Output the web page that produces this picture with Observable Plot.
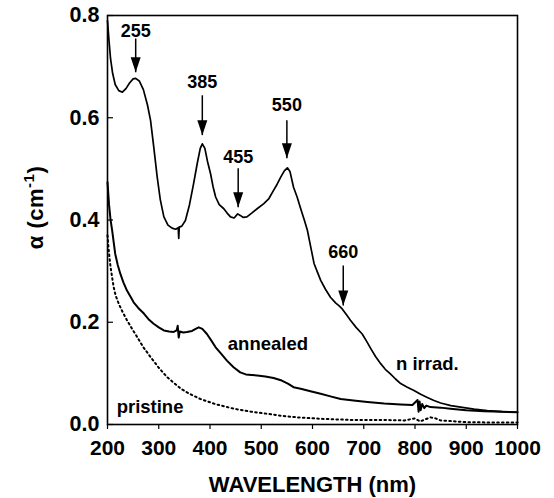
<!DOCTYPE html>
<html><head><meta charset="utf-8">
<script src="https://cdn.jsdelivr.net/npm/d3@7"></script>
<script src="https://cdn.jsdelivr.net/npm/@observablehq/plot@0.6"></script>
<style>
html,body{margin:0;padding:0;background:#fff;}
#chart svg{display:block;}
</style></head><body><div id="chart"></div>
<script>
// ---- data ----
const irradNm  = [200,203,206,210,215,222,229,236,243,250,255,262,270,278,284,290,297,303,310,318,326,333,338,339,340,345,352,360,368,375,381,385,390,395,401,406,411,418,427,433,440,447,454,459,465,472,482,492,505,515,524,531,538,545,551,556,563,570,577,584,590,597,603,610,616,625,635,645,652,658,666,674,685,697,706,714,723,733,742,752,762,772,785,798,811,824,837,850,870,889,915,941,970,1000];
const irradVal = [0.79,0.75,0.715,0.687,0.665,0.653,0.650,0.657,0.668,0.676,0.677,0.672,0.655,0.625,0.595,0.545,0.484,0.44,0.406,0.39,0.384,0.382,0.385,0.364,0.386,0.388,0.399,0.43,0.471,0.51,0.54,0.549,0.54,0.515,0.491,0.465,0.445,0.43,0.422,0.414,0.406,0.404,0.412,0.409,0.405,0.406,0.414,0.422,0.432,0.442,0.458,0.47,0.484,0.496,0.502,0.495,0.464,0.445,0.422,0.40,0.38,0.345,0.315,0.297,0.282,0.265,0.249,0.238,0.232,0.226,0.215,0.204,0.19,0.177,0.162,0.148,0.133,0.119,0.108,0.099,0.089,0.080,0.073,0.0665,0.059,0.053,0.047,0.042,0.037,0.034,0.030,0.027,0.025,0.024];

const annealNm  = [200,203,206,209,215,220,225,231,238,245,251,260,271,280,290,300,310,320,329,335,337,339,341,348,355,365,372,378,385,394,402,411,422,433,446,459,470,481,492,508,524,540,552,563,577,596,616,635,655,680,707,740,772,795,805,807,809,811,814,818,822,830,850,869,900,935,970,1000];
const annealVal = [0.474,0.43,0.40,0.38,0.334,0.312,0.295,0.278,0.262,0.25,0.239,0.228,0.217,0.206,0.197,0.19,0.184,0.182,0.181,0.184,0.193,0.17,0.182,0.18,0.181,0.183,0.187,0.190,0.187,0.177,0.165,0.151,0.138,0.125,0.112,0.102,0.098,0.097,0.096,0.094,0.091,0.086,0.08,0.073,0.070,0.065,0.060,0.055,0.050,0.047,0.044,0.041,0.039,0.038,0.048,0.025,0.045,0.028,0.04,0.032,0.037,0.034,0.033,0.031,0.028,0.026,0.025,0.024];

const pristNm  = [200,202,204,206,209,212,216,222,230,238,248,258,270,284,300,316,330,343,360,381,410,446,480,512,540,570,620,674,730,780,800,810,820,830,840,850,902,950,1000];
const pristVal = [0.37,0.345,0.325,0.308,0.288,0.269,0.252,0.236,0.219,0.204,0.187,0.171,0.151,0.132,0.111,0.093,0.081,0.070,0.060,0.050,0.040,0.031,0.025,0.021,0.017,0.014,0.011,0.009,0.009,0.008,0.012,0.006,0.010,0.014,0.012,0.008,0.0045,0.004,0.004];

const peakNm    = [255,385,455,550,660];
const peakText  = ["255","385","455","550","660"];
const arrowFrom = [0.755,0.644,0.501,0.595,0.311];
const arrowTip  = [0.689,0.566,0.425,0.521,0.233];
const peakTextY = [0.770,0.670,0.523,0.624,0.337];

const seriesText = ["annealed","n irrad.","pristine"];
const seriesTextX = [513,824,283];
const seriesTextY = [0.158,0.119,0.034];

const xTicks = [200,300,400,500,600,700,800,900,1000];
const yTicks = [0.0,0.2,0.4,0.6,0.8];
const xTitle = "WAVELENGTH (nm)";

// ---- tables ----
const irrad  = irradNm.map((x,i)=>({x, y: irradVal[i]}));
const anneal = annealNm.map((x,i)=>({x, y: annealVal[i]}));
const prist  = pristNm.map((x,i)=>({x, y: pristVal[i]}));
const peaks  = peakNm.map((x,i)=>({x, y1: arrowFrom[i], y2: arrowTip[i], ty: peakTextY[i], t: peakText[i]}));
const slabels = seriesText.map((t,i)=>({t, x: seriesTextX[i], y: seriesTextY[i]}));

const FONT = "'Liberation Sans', Arial, Helvetica, sans-serif";
const head = {draw(ctx){ ctx.moveTo(0,0); ctx.lineTo(-5,-15); ctx.lineTo(5,-15); ctx.closePath(); }};

const chart = Plot.plot({
  width: 554, height: 498,
  marginLeft: 107, marginRight: 37, marginTop: 15, marginBottom: 74,
  style: {fontFamily: FONT, background: "#fff", color: "#000", overflow: "visible"},
  x: {domain: [200, 1000]},
  y: {domain: [0, 0.8]},
  marks: [
    Plot.axisX(xTicks, {tickSize: 5, tickPadding: 11, fontSize: 21, fontWeight: "bold", tickFormat: d => String(d), label: null, strokeWidth: 1.2}),
    Plot.axisY(yTicks, {tickSize: -6, text: null, label: null, strokeWidth: 1.2}),
    Plot.axisY(yTicks, {tickSize: 0, tickPadding: 8, fontSize: 21.5, fontWeight: "bold", tickFormat: d3.format(".1f"), label: null}),
    Plot.line(prist, {x: "x", y: "y", stroke: "#000", strokeWidth: 2, strokeDasharray: "1.6,3.2"}),
    Plot.line(anneal, {x: "x", y: "y", stroke: "#000", strokeWidth: 2}),
    Plot.line(irrad, {x: "x", y: "y", stroke: "#000", strokeWidth: 1.7}),
    Plot.link(peaks, {x1: "x", x2: "x", y1: "y1", y2: "y2", stroke: "#000", strokeWidth: 1.5}),
    Plot.dot(peaks, {x: "x", y: "y2", symbol: head, r: 5, fill: "#000", stroke: null}),
    Plot.text(peaks, {x: "x", y: "ty", text: "t", fontSize: 18, fontWeight: "bold", fill: "#000"}),
    Plot.text(slabels, {x: "x", y: "y", text: "t", fontSize: 18.5, fontWeight: "bold", fill: "#000"}),
    Plot.text([xTitle], {frameAnchor: "bottom", text: d => d, lineAnchor: "bottom", dy: 67, fontSize: 22, fontWeight: "bold", fill: "#000"}),
    Plot.frame({stroke: "#000", strokeWidth: 1.6})
  ]
});

// y-axis title with superscript
const svg = d3.select(chart);
const yl = svg.append("text")
  .attr("transform", "translate(43,207.5) rotate(-90)")
  .attr("text-anchor", "middle")
  .attr("font-family", FONT).attr("font-size", 22).attr("font-weight", "bold")
  .attr("letter-spacing", 0.5).attr("fill", "#000");
yl.append("tspan").text("α (cm");
yl.append("tspan").attr("dy", -9).attr("font-size", 15).text("-1");
yl.append("tspan").attr("dy", 9).text(")");

document.getElementById("chart").appendChild(chart);
</script></body></html>
